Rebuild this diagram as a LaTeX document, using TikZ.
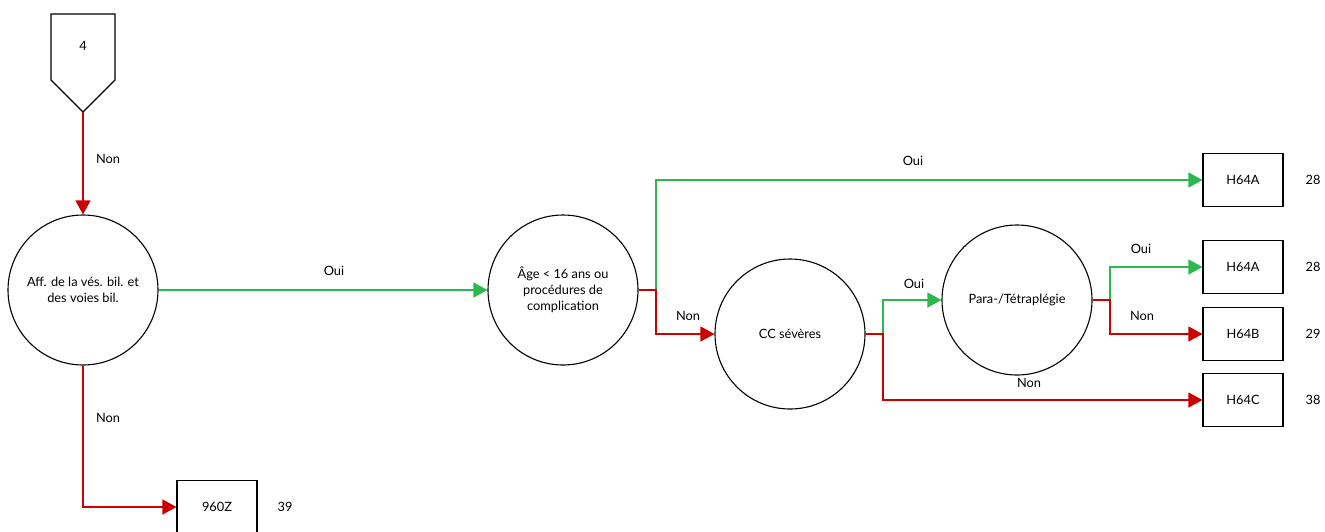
\documentclass[tikz,border=0pt]{standalone}
\usepackage{fontspec}
\setmainfont{Lato}
\usetikzlibrary{arrows.meta}
\definecolor{ouigreen}{RGB}{45,184,77}
\definecolor{nonred}{RGB}{204,0,0}
\tikzset{
	question/.style={draw, circle, line width=1.1pt, minimum size=150pt, inner sep=0pt, align=center, font=\fontsize{12.8}{15.8}\selectfont},
	result/.style={draw, rectangle, line width=1.1pt, minimum width=80pt, minimum height=53pt, inner sep=0pt, font=\fontsize{12.8}{15}\selectfont},
	lbl/.style={font=\fontsize{12.8}{15}\selectfont, inner sep=0pt},
	oui/.style={draw=ouigreen, line width=1.2pt, -{Triangle[length=14pt,width=15pt,fill=ouigreen]}},
	non/.style={draw=nonred, line width=1.2pt, -{Triangle[length=14pt,width=15pt,fill=nonred]}}
}

\begin{document}
\begin{tikzpicture}[x=1pt, y=-1pt]
			%%%%% START %%%%%
			
			\useasboundingbox (0, 0) rectangle (1325, 531);
			
			% entry
			\draw[line width=1.1pt] (51, 14) -- (115, 14) -- (115, 80) -- (83, 112) -- (51, 80) -- cycle;
			\node[lbl] (start) at (83, 46) {4};
			\coordinate (starttip) at (83, 112);
			
			% questions
			\node[question] (affvb) at (83, 290) {Aff. de la vés. bil. et\\des voies bil.};
			\node[question] (age) at (563, 290) {Âge < 16 ans ou\\procédures de\\complication};
			\node[question] (ccsev) at (790, 334) {CC sévères};
			\node[question] (para) at (1017, 300) {Para-/Tétraplégie};
			
			% results
			\node[result] (h64a) at (1243, 180) {H64A};
			\node[result] (h64aa) at (1243, 267) {H64A};
			\node[result] (h64b) at (1243, 334) {H64B};
			\node[result] (h64c) at (1243, 400) {H64C};
			\node[result] (z960) at (217, 507) {960Z};
			
			\node[lbl] (n1) at (1313, 180) {28};
			\node[lbl] (n2) at (1313, 267) {28};
			\node[lbl] (n3) at (1313, 334) {29};
			\node[lbl] (n4) at (1313, 400) {38};
			\node[lbl] (n5) at (285, 507) {39};
			
			% connectors
			\coordinate (jage) at (656, 290);
			\coordinate (jcc) at (883, 334);
			\coordinate (jpara) at (1110, 300);
			
			\draw[non] (starttip) -- (affvb.north);
			\draw[oui] (affvb.east) -- (age.west);
			\draw[non] (affvb.south) |- (z960.west);
			
			\draw[oui] (jage) |- (h64a.west);
			\draw[non] (age.east) -- (jage) |- (ccsev.west);
			
			\draw[oui] (jcc) |- (para.west);
			\draw[non] (ccsev.east) -- (jcc) |- (h64c.west);
			
			\draw[oui] (jpara) |- (h64aa.west);
			\draw[non] (para.east) -- (jpara) |- (h64b.west);
			
			% labels
			\node[lbl] (l1) at (108, 159) {Non};
			\node[lbl] (l2) at (334, 271) {Oui};
			\node[lbl] (l3) at (108, 418) {Non};
			\node[lbl] (l4) at (913, 161) {Oui};
			\node[lbl] (l5) at (688, 316) {Non};
			\node[lbl] (l6) at (914, 284) {Oui};
			\node[lbl] (l7) at (1029, 383) {Non};
			\node[lbl] (l8) at (1141, 249) {Oui};
			\node[lbl] (l9) at (1142, 316) {Non};
			
			%%%%% END %%%%%
\end{tikzpicture}
\end{document}
